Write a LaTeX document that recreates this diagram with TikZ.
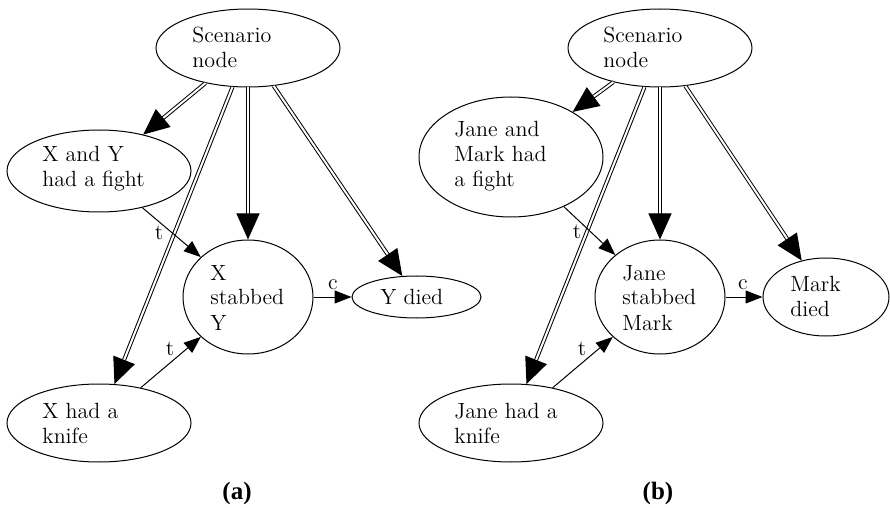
\documentclass[tikz,border=0pt]{standalone}
\usepackage{fontspec}
\newfontfamily\capfont{Liberation Serif}
\usetikzlibrary{arrows.meta,shapes.geometric}
\newcommand\mlines[1]{\begin{tabular}[t]{@{}l@{}}#1\end{tabular}}
\begin{document}
\begin{tikzpicture}[x=0.5pt,y=-0.5pt,
  every node/.style={font=\fontsize{11}{12.5}\selectfont},
  ell/.style={draw,ellipse,inner sep=0pt,line width=0.5pt},
  txt/.style={anchor=base west,inner sep=0pt},
  dbl/.style={draw,double,double distance=1pt,line width=0.5pt,-{Triangle[length=13pt,width=11.5pt]}},
  sgl/.style={draw,line width=0.5pt,-{Triangle[length=8.5pt,width=6.5pt]}},
  lab/.style={inner sep=0pt},
  subcap/.style={font=\capfont\fontsize{12.5}{14}\selectfont\bfseries}]
\useasboundingbox (0,0) rectangle (890,508);
% ---------- panel (a)
\node[ell,minimum width=92pt,minimum height=39pt] (sa) at (248,48) {};
\node[txt] (sat) at (192,43) {\mlines{Scenario\\node}};
\node[ell,minimum width=92pt,minimum height=41pt] (fa) at (99,171) {};
\node[txt] (fat) at (42,162) {\mlines{X and Y\\had a fight}};
\node[ell,minimum width=65pt,minimum height=57pt] (xa) at (248,297) {};
\node[txt] (xat) at (210,280) {\mlines{X\\stabbed\\Y}};
\node[ell,minimum width=64.5pt,minimum height=21pt] (da) at (416.5,297) {};
\node[txt] (dat) at (380,305) {Y died};
\node[ell,minimum width=92pt,minimum height=39pt] (ka) at (99,423) {};
\node[txt] (kat) at (42,418) {\mlines{X had a\\knife}};
\draw[dbl] (sa) -- (fa);
\draw[dbl] (sa) -- (ka);
\draw[dbl] (sa) -- (xa);
\draw[dbl] (sa) -- (da);
\draw[sgl] (fa) -- (xa);
\draw[sgl] (ka) -- (xa);
\draw[sgl] (xa) -- (da);
\node[lab] (t1a) at (159,233) {t};
\node[lab] (t2a) at (170,349) {t};
\node[lab] (ca) at (333,285) {c};
\node[subcap] (capa) at (237,493) {(a)};
% ---------- panel (b)
\node[ell,minimum width=92pt,minimum height=39pt] (sb) at (660,48) {};
\node[txt] (sbt) at (603,43) {\mlines{Scenario\\node}};
\node[ell,minimum width=92pt,minimum height=60pt] (fb) at (511,157) {};
\node[txt] (fbt) at (454,137) {\mlines{Jane and\\Mark had\\a fight}};
\node[ell,minimum width=65pt,minimum height=57pt] (xb) at (660,297) {};
\node[txt] (xbt) at (622,280) {\mlines{Jane\\stabbed\\Mark}};
\node[ell,minimum width=63pt,minimum height=39pt] (db) at (826,297) {};
\node[txt] (dbt) at (790,292) {\mlines{Mark\\died}};
\node[ell,minimum width=92pt,minimum height=39pt] (kb) at (511,423) {};
\node[txt] (kbt) at (454,418) {\mlines{Jane had a\\knife}};
\draw[dbl] (sb) -- (fb);
\draw[dbl] (sb) -- (kb);
\draw[dbl] (sb) -- (xb);
\draw[dbl] (sb) -- (db);
\draw[sgl] (fb) -- (xb);
\draw[sgl] (kb) -- (xb);
\draw[sgl] (xb) -- (db);
\node[lab] (t1b) at (577,232) {t};
\node[lab] (t2b) at (582,349) {t};
\node[lab] (cb) at (743,285) {c};
\node[subcap] (capb) at (658,493) {(b)};
\end{tikzpicture}
\end{document}
